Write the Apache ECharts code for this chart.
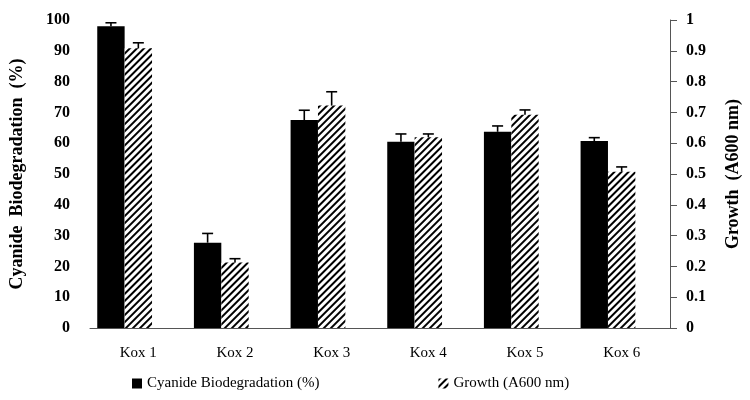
<!DOCTYPE html>
<html>
<head>
<meta charset="utf-8">
<script src="https://cdn.jsdelivr.net/npm/echarts@6/dist/echarts.min.js"></script>
<style>html,body{margin:0;padding:0;background:#fff}#c{width:750px;height:400px}</style>
</head>
<body>
<div id="c"></div>
<script>
const categories = ['Kox 1', 'Kox 2', 'Kox 3', 'Kox 4', 'Kox 5', 'Kox 6'];
const biodegradation = [98.0, 27.7, 67.5, 60.5, 63.7, 60.7];
const biodegradationErr = [1.1, 3.0, 3.2, 2.5, 1.9, 1.1];
const growth = [0.908, 0.213, 0.722, 0.619, 0.692, 0.507];
const growthErr = [0.018, 0.012, 0.045, 0.011, 0.016, 0.016];
const leftAxis = { min: 0, max: 100, interval: 10 };
const rightAxis = { min: 0, max: 1, interval: 0.1 };

const SERIF = '"Liberation Serif", "DejaVu Serif", serif';
const GAP = 0.15;

function errRenderer(slot) {
  return function (params, api) {
    const x = api.value(0), v = api.value(1), e = api.value(2);
    const band = api.size([1, 0])[0];
    const bw = band * (1 - GAP) / 3;
    const base = api.coord([x, v]);
    const top = api.coord([x, v + e]);
    const cx = base[0] + slot * bw;
    const st = { stroke: '#000', lineWidth: 1.6 };
    return {
      type: 'group',
      children: [
        { type: 'line', shape: { x1: cx, y1: base[1], x2: cx, y2: top[1] }, style: st },
        { type: 'line', shape: { x1: cx - 5.5, y1: top[1], x2: cx + 5.5, y2: top[1] }, style: st }
      ]
    };
  };
}

const chart = echarts.init(document.getElementById('c'), null, { renderer: 'canvas' });
chart.setOption({
  animation: false,
  backgroundColor: '#fff',
  grid: { left: 90, right: 80, top: 20, bottom: 72, containLabel: false, outerBoundsMode: 'none' },
  legend: {
    bottom: 4,
    left: 127,
    itemWidth: 10,
    itemHeight: 10,
    itemGap: 119,
    textStyle: { fontFamily: SERIF, fontSize: 15, color: '#000' },
    data: [
      { name: 'Cyanide Biodegradation (%)', icon: 'rect' },
      { name: 'Growth (A600 nm)', icon: 'rect' }
    ]
  },
  xAxis: {
    type: 'category',
    data: categories,
    axisLine: { lineStyle: { color: '#555', width: 1 } },
    axisTick: { show: false },
    axisLabel: { fontFamily: SERIF, fontSize: 15, color: '#000', margin: 18 }
  },
  yAxis: [
    {
      type: 'value',
      min: leftAxis.min, max: leftAxis.max, interval: leftAxis.interval,
      name: 'Cyanide  Biodegradation  (%)',
      nameLocation: 'middle',
      nameGap: 64,
      nameTextStyle: { fontFamily: SERIF, fontSize: 18, fontWeight: 'bold', color: '#000' },
      axisLine: { show: false },
      axisTick: { show: false },
      splitLine: { show: false },
      axisLabel: { fontFamily: SERIF, fontSize: 16, fontWeight: 'bold', color: '#000', margin: 20 }
    },
    {
      type: 'value',
      position: 'right',
      min: rightAxis.min, max: rightAxis.max, interval: rightAxis.interval,
      name: 'Growth  (A600 nm)',
      nameLocation: 'middle',
      nameGap: 54,
      nameRotate: 90,
      nameTextStyle: { fontFamily: SERIF, fontSize: 18, fontWeight: 'bold', color: '#000' },
      axisLine: { show: true, lineStyle: { color: '#555', width: 1 } },
      axisTick: { show: true, length: 7, inside: false, lineStyle: { color: '#555' } },
      splitLine: { show: false },
      axisLabel: { fontFamily: SERIF, fontSize: 16, fontWeight: 'bold', color: '#000', margin: 16 }
    }
  ],
  series: [
    {
      name: 'Cyanide Biodegradation (%)',
      type: 'bar',
      yAxisIndex: 0,
      data: biodegradation,
      barGap: '0%',
      barCategoryGap: (GAP * 100) + '%',
      itemStyle: { color: '#000' }
    },
    {
      name: 'Growth (A600 nm)',
      type: 'bar',
      yAxisIndex: 1,
      data: growth,
      barGap: '0%',
      barCategoryGap: (GAP * 100) + '%',
      itemStyle: {
        color: '#fff',
        decal: {
          symbol: 'rect',
          symbolSize: 1,
          color: '#000',
          dashArrayX: [1, 0],
          dashArrayY: [2, 2.5],
          rotation: -Math.PI / 4
        }
      }
    },
    {
      name: 'pad',
      type: 'bar',
      yAxisIndex: 0,
      data: categories.map(() => '-'),
      barGap: '0%',
      barCategoryGap: (GAP * 100) + '%',
      silent: true
    },
    {
      name: 'bioErr',
      type: 'custom',
      yAxisIndex: 0,
      renderItem: errRenderer(-1),
      encode: { x: 0, y: 1 },
      data: categories.map((c, i) => [i, biodegradation[i], biodegradationErr[i]]),
      z: 5
    },
    {
      name: 'growthErr',
      type: 'custom',
      yAxisIndex: 1,
      renderItem: errRenderer(0),
      encode: { x: 0, y: 1 },
      data: categories.map((c, i) => [i, growth[i], growthErr[i]]),
      z: 5
    }
  ]
});
</script>
</body>
</html>
